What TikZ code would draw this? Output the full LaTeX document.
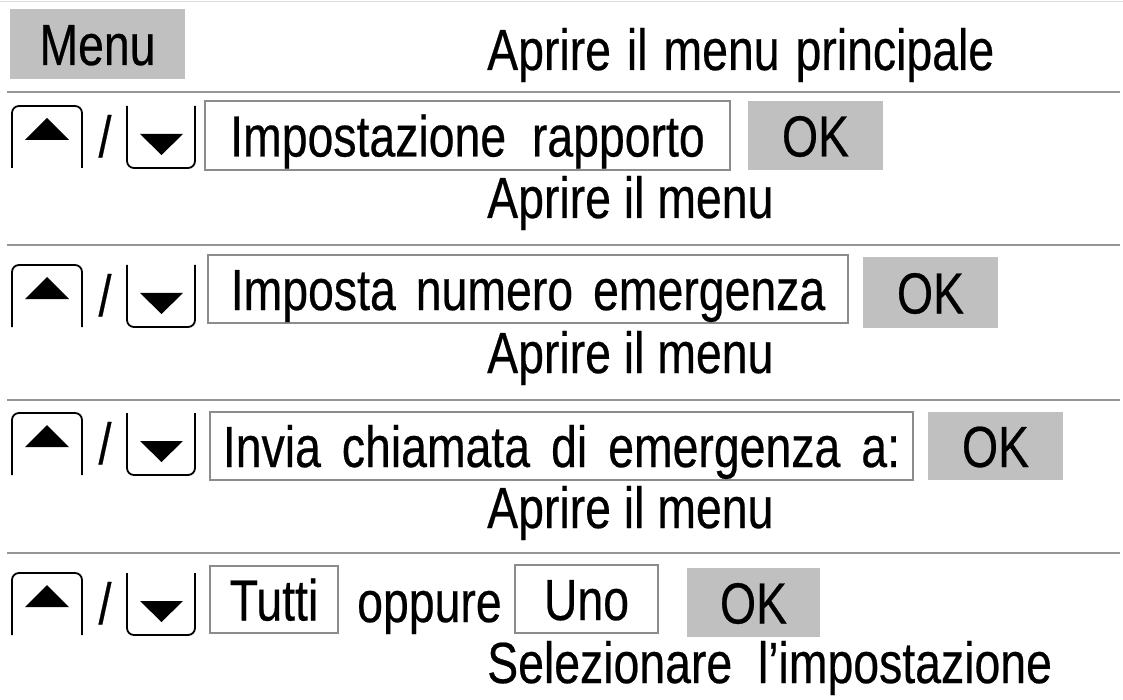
\documentclass[tikz,border=0pt]{standalone}
\usepackage{fontspec}
\setmainfont{Liberation Sans}[FakeStretch=0.8,FakeBold=0.4]
\definecolor{keygray}{RGB}{192,192,192}
\definecolor{framegray}{RGB}{140,140,140}
\definecolor{rulegray}{RGB}{150,150,150}
\tikzset{
  txt/.style={font=\fontsize{58}{60}\selectfont,inner sep=0pt},
  softkey/.style={txt,fill=keygray,text height=42pt,text depth=0pt},
  entry/.style={txt,draw=framegray,line width=1.8pt,text height=42pt,text depth=0pt},
  sepline/.style={rulegray,line width=2.2pt},
  upkey/.pic={
    \draw[line width=1.8pt,rounded corners=7pt] (0,62) -- (0,0) -- (70,0) -- (70,62);
    \fill (13,34) -- (35,12) -- (57,34) -- cycle;
  },
  downkey/.pic={
    \draw[line width=1.8pt,rounded corners=7pt] (0,0) -- (0,62) -- (68,62) -- (68,0);
    \fill (13,28) -- (56,28) -- (34.5,49) -- cycle;
  }
}
\begin{document}
\begin{tikzpicture}[x=1pt,y=-1pt]
\useasboundingbox (0,0) rectangle (1123,700);
\draw[gray!25,line width=1pt] (0,1.5) -- (1123,1.5);
% Menu
\node[softkey,minimum width=175pt,minimum height=70pt] (menu) at (97.5,44) {Menu};
\node[txt,anchor=base west] (openmain) at (487,70) {Aprire\hspace{16pt}il\hspace{16pt}menu\hspace{16pt}principale};
\draw[sepline] (7,92) -- (1120,92);
% Impostazione rapporto
\pic at (12,106) {upkey};
\node[txt,anchor=base] (slashA) at (105,157) {/};
\pic at (127,106) {downkey};
\node[entry,minimum width=525pt,minimum height=69pt] (entryA) at (467.5,135.5) {Impostazione\ \ rapporto};
\node[softkey,minimum width=135pt,minimum height=69pt] (okA) at (815.5,135.5) {OK};
\node[txt,anchor=base west] (openA) at (487,218) {Aprire il menu};
\draw[sepline] (7,245) -- (1120,245);
% Imposta numero emergenza
\pic at (12,265) {upkey};
\node[txt,anchor=base] (slashB) at (105,316) {/};
\pic at (127,265) {downkey};
\node[entry,minimum width=640pt,minimum height=68pt] (entryB) at (528,289) {Imposta\hspace{20pt}numero\hspace{20pt}emergenza};
\node[softkey,minimum width=135pt,minimum height=71pt] (okB) at (930.5,292.5) {OK};
\node[txt,anchor=base west] (openB) at (487,373) {Aprire il menu};
\draw[sepline] (7,400) -- (1120,400);
% Invia chiamata di emergenza a:
\pic at (12,413) {upkey};
\node[txt,anchor=base] (slashC) at (105,464) {/};
\pic at (127,413) {downkey};
\node[entry,minimum width=703pt,minimum height=68pt] (entryC) at (561.5,446) {Invia\hspace{21pt}chiamata\hspace{21pt}di\hspace{21pt}emergenza\hspace{21pt}a:};
\node[softkey,minimum width=135pt,minimum height=68pt] (okC) at (995.5,446) {OK};
\node[txt,anchor=base west] (openC) at (487,528) {Aprire il menu};
\draw[sepline] (7,553) -- (1120,553);
% Tutti oppure Uno
\pic at (12,573) {upkey};
\node[txt,anchor=base] (slashD) at (105,624) {/};
\pic at (127,573) {downkey};
\node[entry,minimum width=128pt,minimum height=67pt] (all) at (274,599.5) {Tutti};
\node[txt,anchor=base west] (orword) at (357,622) {oppure};
\node[entry,minimum width=143pt,minimum height=68pt] (one) at (586.5,599) {Uno};
\node[softkey,minimum width=133pt,minimum height=69pt] (okD) at (753.5,602.5) {OK};
\node[txt,anchor=base west] (select) at (487,683) {Selezionare\ \ l’impostazione};
\end{tikzpicture}
\end{document}
